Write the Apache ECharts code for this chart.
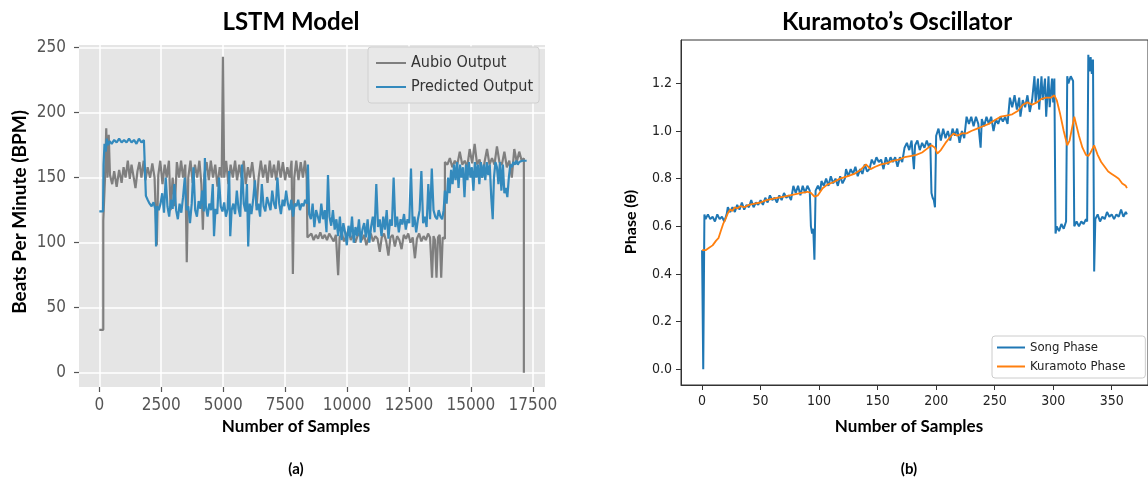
<!DOCTYPE html>
<html>
<head>
<meta charset="utf-8">
<script src="https://cdn.jsdelivr.net/npm/echarts@6/dist/echarts.min.js"></script>
<style>
  html, body { margin: 0; background: #fff; }
  #chart { width: 1148px; height: 479px; }
</style>
</head>
<body>
<div id="chart"></div>
<script>
// (a) LSTM model: sample index / BPM
const aubioX = [0, 160, 160, 230, 230, 280, 330, 380, 430, 520, 600, 700, 800, 900, 980, 1060, 1150, 1230, 1300, 1380, 1460, 1540, 1620, 1700, 1790, 1860, 1950, 2050, 2140, 2230, 2320, 2380, 2460, 2550, 2640, 2720, 2810, 2880, 2960, 3050, 3130, 3220, 3300, 3380, 3470, 3530, 3590, 3680, 3770, 3860, 3950, 4040, 4120, 4180, 4240, 4330, 4420, 4500, 4590, 4680, 4770, 4860, 4940, 4990, 5040, 5120, 5210, 5300, 5390, 5480, 5560, 5650, 5740, 5830, 5910, 6000, 6080, 6170, 6260, 6350, 6430, 6520, 6610, 6700, 6790, 6880, 6960, 7050, 7140, 7230, 7320, 7410, 7500, 7590, 7680, 7760, 7813, 7870, 7950, 8040, 8130, 8220, 8300, 8370, 8400, 8480, 8560, 8650, 8740, 8830, 8920, 9010, 9100, 9190, 9280, 9370, 9460, 9550, 9640, 9700, 9790, 9880, 9970, 10060, 10150, 10240, 10330, 10420, 10510, 10600, 10690, 10780, 10870, 10960, 11050, 11140, 11230, 11320, 11400, 11490, 11580, 11670, 11750, 11840, 11930, 12020, 12110, 12200, 12290, 12380, 12470, 12560, 12650, 12740, 12820, 12910, 13000, 13090, 13180, 13270, 13350, 13430, 13490, 13550, 13610, 13670, 13740, 13800, 13860, 13950, 13950, 14050, 14150, 14250, 14350, 14450, 14550, 14650, 14750, 14850, 14950, 15050, 15150, 15250, 15350, 15450, 15550, 15650, 15750, 15850, 15950, 16050, 16150, 16250, 16350, 16450, 16550, 16650, 16750, 16850, 16950, 17050, 17137, 17137];
const aubioY = [33, 33, 117, 117, 150, 188, 150, 183, 152, 145, 155, 143, 156, 146, 158, 150, 163, 149, 160, 151, 142, 155, 162, 150, 163, 148, 158, 150, 161, 150, 98, 152, 163, 145, 160, 150, 163, 125, 150, 128, 162, 150, 163, 150, 160, 85, 150, 163, 146, 160, 150, 163, 145, 110, 152, 162, 148, 163, 150, 160, 143, 158, 150, 243, 150, 163, 145, 160, 150, 163, 148, 160, 150, 163, 145, 158, 150, 162, 148, 128, 150, 163, 150, 160, 146, 163, 150, 160, 148, 163, 150, 162, 148, 158, 150, 163, 76, 150, 163, 148, 162, 150, 163, 150, 104, 103, 107, 102, 106, 103, 108, 103, 106, 102, 107, 104, 101, 106, 75, 104, 107, 101, 105, 110, 102, 106, 100, 105, 108, 102, 106, 98, 104, 107, 101, 105, 103, 93, 104, 107, 101, 90, 104, 106, 97, 105, 102, 95, 106, 103, 107, 100, 104, 88, 103, 107, 101, 105, 102, 107, 104, 73, 105, 102, 73, 104, 106, 73, 104, 103, 162, 160, 165, 158, 163, 160, 170, 160, 163, 158, 172, 161, 176, 160, 164, 150, 162, 172, 160, 165, 160, 174, 162, 160, 170, 158, 163, 150, 172, 162, 170, 163, 165, 0];

const predX = [0, 150, 170, 210, 260, 300, 350, 420, 500, 600, 700, 800, 900, 1000, 1100, 1200, 1300, 1400, 1500, 1600, 1700, 1800, 1860, 1880, 1950, 2030, 2110, 2190, 2260, 2290, 2330, 2400, 2470, 2540, 2610, 2680, 2750, 2820, 2890, 2960, 3030, 3100, 3170, 3240, 3310, 3380, 3450, 3520, 3590, 3660, 3730, 3800, 3870, 3940, 4010, 4080, 4150, 4220, 4262, 4300, 4370, 4440, 4510, 4580, 4630, 4690, 4760, 4830, 4900, 4970, 5040, 5110, 5180, 5240, 5285, 5340, 5410, 5480, 5550, 5620, 5690, 5760, 5830, 5900, 5960, 6010, 6070, 6140, 6210, 6280, 6350, 6420, 6490, 6560, 6630, 6700, 6770, 6840, 6910, 6980, 7050, 7120, 7190, 7260, 7330, 7400, 7470, 7540, 7610, 7680, 7750, 7820, 7890, 7960, 8030, 8100, 8170, 8240, 8310, 8380, 8420, 8470, 8540, 8610, 8680, 8750, 8820, 8890, 8960, 9030, 9100, 9170, 9230, 9290, 9360, 9430, 9500, 9570, 9640, 9710, 9780, 9850, 9920, 9990, 10060, 10130, 10200, 10270, 10340, 10410, 10480, 10550, 10620, 10690, 10760, 10830, 10900, 10970, 11040, 11110, 11180, 11250, 11320, 11390, 11460, 11530, 11600, 11670, 11740, 11810, 11880, 11950, 12020, 12090, 12160, 12230, 12300, 12370, 12440, 12510, 12580, 12650, 12720, 12790, 12860, 12930, 13000, 13070, 13140, 13210, 13280, 13350, 13420, 13490, 13560, 13630, 13700, 13770, 13840, 13900, 13950, 14020, 14080, 14140, 14200, 14260, 14320, 14380, 14440, 14500, 14560, 14620, 14680, 14740, 14800, 14860, 14920, 14980, 15040, 15100, 15160, 15220, 15280, 15340, 15400, 15460, 15520, 15580, 15640, 15700, 15760, 15820, 15880, 15930, 15990, 16050, 16110, 16170, 16230, 16290, 16350, 16410, 16470, 16530, 16590, 16650, 16710, 16770, 16830, 16890, 16950, 17010, 17070, 17150, 17250];
const predY = [124, 124, 160, 176, 170, 180, 175, 178, 176, 179, 177, 180, 177, 179, 177, 180, 177, 179, 176, 180, 177, 179, 178, 136, 133, 130, 128, 131, 126, 97, 128, 125, 130, 138, 123, 150, 128, 120, 133, 126, 145, 125, 118, 130, 123, 135, 150, 125, 128, 115, 130, 158, 125, 120, 132, 126, 140, 124, 165, 128, 120, 130, 125, 145, 105, 126, 122, 150, 128, 124, 131, 120, 126, 155, 105, 125, 130, 122, 140, 126, 120, 160, 130, 124, 145, 97, 130, 122, 133, 148, 125, 130, 120, 145, 128, 124, 135, 130, 125, 140, 130, 126, 150, 130, 122, 133, 128, 140, 130, 125, 133, 120, 130, 128, 133, 125, 130, 128, 133, 130, 160, 122, 118, 130, 112, 125, 120, 115, 130, 118, 125, 108, 152, 120, 113, 125, 110, 118, 105, 120, 102, 115, 108, 98, 113, 104, 120, 100, 112, 105, 118, 100, 110, 115, 104, 118, 100, 112, 120, 108, 145, 112, 118, 105, 120, 110, 125, 103, 118, 113, 150, 112, 120, 108, 118, 114, 122, 110, 118, 115, 157, 112, 120, 108, 118, 125, 155, 115, 120, 112, 145, 118, 157, 125, 120, 118, 125, 120, 118, 125, 140, 130, 150, 138, 156, 145, 160, 148, 162, 142, 160, 150, 158, 135, 160, 148, 162, 150, 158, 140, 162, 150, 160, 145, 162, 150, 160, 148, 162, 152, 160, 135, 118, 150, 162, 158, 145, 162, 140, 160, 138, 142, 135, 150, 160, 158, 162, 160, 163, 160, 162, 161, 163, 162, 163];

const lstmXTicks = [0, 2500, 5000, 7500, 10000, 12500, 15000, 17500];
const lstmYTicks = [0, 50, 100, 150, 200, 250];

// (b) Kuramoto's oscillator: sample index / phase
const songX = [0, 1, 2, 3, 5, 7, 9, 11, 13, 15, 17, 19, 21, 22, 24, 26, 28, 30, 32, 34, 36, 38, 40, 42, 44, 46, 48, 50, 52, 54, 56, 58, 60, 62, 64, 66, 68, 70, 72, 74, 76, 78, 80, 82, 84, 86, 88, 90, 92, 93, 94, 95, 96, 97, 99, 101, 102, 104, 106, 108, 110, 112, 114, 116, 118, 120, 122, 123, 125, 127, 129, 131, 133, 135, 137, 139, 141, 143, 145, 147, 149, 151, 153, 155, 157, 159, 161, 163, 165, 167, 169, 171, 173, 175, 177, 179, 181, 182, 184, 186, 188, 190, 192, 194, 195, 196, 197, 198, 199, 200, 202, 204, 206, 208, 210, 212, 214, 216, 218, 220, 222, 224, 226, 228, 230, 232, 234, 236, 238, 239, 241, 243, 245, 247, 249, 251, 253, 255, 257, 259, 261, 263, 265, 267, 269, 271, 272, 274, 276, 278, 280, 282, 284, 285, 287, 288, 290, 291, 293, 294, 296, 297, 299, 300, 301, 302, 303, 305, 307, 309, 311, 312, 313, 315, 317, 318, 320, 322, 324, 326, 328, 329, 330, 331, 332, 333, 334, 335, 336, 338, 340, 342, 344, 346, 348, 350, 352, 354, 356, 358, 360, 362, 363];
const songY = [0.50, 0.00, 0.65, 0.63, 0.65, 0.63, 0.64, 0.62, 0.65, 0.63, 0.64, 0.62, 0.65, 0.68, 0.66, 0.68, 0.66, 0.69, 0.67, 0.70, 0.67, 0.69, 0.68, 0.71, 0.68, 0.70, 0.69, 0.71, 0.69, 0.72, 0.70, 0.73, 0.71, 0.72, 0.70, 0.73, 0.71, 0.74, 0.72, 0.73, 0.71, 0.77, 0.74, 0.77, 0.73, 0.77, 0.74, 0.77, 0.75, 0.60, 0.57, 0.59, 0.46, 0.75, 0.77, 0.75, 0.79, 0.77, 0.80, 0.77, 0.81, 0.78, 0.80, 0.77, 0.81, 0.78, 0.80, 0.84, 0.81, 0.84, 0.82, 0.85, 0.81, 0.84, 0.82, 0.86, 0.83, 0.84, 0.88, 0.86, 0.89, 0.87, 0.88, 0.84, 0.89, 0.86, 0.89, 0.87, 0.89, 0.85, 0.89, 0.87, 0.93, 0.95, 0.92, 0.96, 0.84, 0.94, 0.96, 0.92, 0.95, 0.93, 0.96, 0.93, 0.95, 0.74, 0.72, 0.71, 0.68, 0.98, 1.01, 0.96, 1.01, 0.97, 1.00, 0.96, 1.01, 0.98, 1.01, 0.95, 1.00, 0.97, 1.06, 1.03, 1.06, 1.02, 1.06, 1.03, 0.93, 1.05, 1.02, 1.06, 1.03, 1.06, 1.00, 1.05, 1.03, 1.06, 1.04, 1.06, 1.03, 1.14, 1.10, 1.15, 1.09, 1.14, 1.06, 1.13, 1.10, 1.15, 1.08, 1.13, 1.23, 1.12, 1.22, 1.09, 1.23, 1.13, 1.22, 1.06, 1.23, 1.10, 1.22, 1.12, 1.22, 0.57, 0.60, 0.58, 0.61, 0.59, 0.62, 1.23, 1.20, 1.23, 1.21, 0.60, 0.62, 0.60, 0.62, 0.61, 0.63, 0.62, 1.32, 1.25, 1.31, 1.24, 1.30, 0.41, 0.63, 0.65, 0.62, 0.64, 0.63, 0.66, 0.64, 0.65, 0.63, 0.65, 0.64, 0.67, 0.64, 0.66, 0.65];

const kuraX = [0, 3, 6, 9, 12, 14, 16, 18, 20, 22, 24, 26, 28, 30, 33, 36, 40, 45, 50, 55, 60, 65, 70, 75, 80, 85, 90, 93, 96, 99, 103, 107, 112, 118, 124, 130, 135, 140, 144, 148, 153, 158, 163, 168, 173, 178, 183, 188, 192, 196, 199, 201, 204, 208, 212, 215, 218, 222, 226, 230, 235, 240, 245, 250, 255, 260, 265, 270, 274, 278, 282, 286, 290, 294, 298, 301, 303, 306, 309, 312, 314, 316, 318, 320, 322, 325, 328, 330, 332, 335, 338, 341, 344, 347, 350, 353, 356, 359, 362, 363];
const kuraY = [0.50, 0.50, 0.51, 0.52, 0.54, 0.55, 0.58, 0.61, 0.63, 0.655, 0.67, 0.665, 0.68, 0.675, 0.685, 0.68, 0.69, 0.695, 0.70, 0.71, 0.715, 0.72, 0.725, 0.73, 0.735, 0.74, 0.745, 0.74, 0.725, 0.73, 0.76, 0.775, 0.785, 0.80, 0.81, 0.82, 0.835, 0.86, 0.84, 0.85, 0.86, 0.865, 0.875, 0.88, 0.89, 0.895, 0.90, 0.91, 0.925, 0.94, 0.93, 0.905, 0.92, 0.95, 0.975, 0.99, 0.98, 0.99, 0.99, 1.00, 1.01, 1.02, 1.03, 1.045, 1.06, 1.065, 1.07, 1.085, 1.11, 1.12, 1.11, 1.12, 1.135, 1.14, 1.14, 1.15, 1.13, 1.07, 1.00, 0.94, 0.96, 1.01, 1.06, 1.02, 0.98, 0.93, 0.90, 0.895, 0.91, 0.94, 0.90, 0.87, 0.85, 0.83, 0.82, 0.81, 0.80, 0.78, 0.77, 0.76];

const kuraXTicks = [0, 50, 100, 150, 200, 250, 300, 350];
const kuraYTicks = [0, 0.2, 0.4, 0.6, 0.8, 1.0, 1.2];

const pairs = (xs, ys) => xs.map((x, i) => [x, ys[i]]);

const tickFontL = '"Liberation Sans Narrow", "DejaVu Sans Condensed", sans-serif';
const tickFontR = '"DejaVu Sans Condensed", "DejaVu Sans", sans-serif';
const boldFont = 'Lato, "Open Sans", sans-serif';

function label(text, x, y, size, rotated) {
  return {
    type: 'text', x, y, rotation: rotated ? Math.PI / 2 : 0,
    style: { text, font: `bold ${size}px ${boldFont}`, fill: '#000', align: 'center', verticalAlign: 'middle' }
  };
}

const chart = echarts.init(document.getElementById('chart'), null, { renderer: 'canvas' });

chart.setOption({
  animation: false,
  backgroundColor: '#fff',
  graphic: [
    label('LSTM Model', 291, 22, 24),
    label('Kuramoto\u2019s Oscillator', 897, 22, 24),
    label('Number of Samples', 296, 427, 17),
    label('Number of Samples', 909, 427, 17),
    label('(a)', 296, 469, 15),
    label('(b)', 909, 469, 15),
    label('Beats Per Minute (BPM)', 20, 212, 19, true),
    label('Phase (\u03b8)', 631, 222, 16, true)
  ],
  legend: [
    {
      data: ['Aubio Output', 'Predicted Output'],
      orient: 'vertical', left: 368, top: 47,
      icon: 'rect', itemWidth: 30, itemHeight: 2,
      padding: [8, 6, 8, 8], itemGap: 8,
      backgroundColor: '#E8E8E8', borderColor: '#D0D0D0', borderWidth: 1, borderRadius: 3,
      textStyle: { fontFamily: tickFontL, fontSize: 16, lineHeight: 16, color: '#333' }
    },
    {
      data: ['Song Phase', 'Kuramoto Phase'],
      orient: 'vertical', left: 992, top: 336,
      icon: 'rect', itemWidth: 28, itemHeight: 2,
      padding: [5, 20, 5, 5], itemGap: 6,
      backgroundColor: '#fff', borderColor: '#CCCCCC', borderWidth: 1, borderRadius: 3,
      textStyle: { fontFamily: tickFontR, fontSize: 13, lineHeight: 13, color: '#222' }
    }
  ],
  grid: [
    { left: 79, top: 45, width: 466, height: 342, show: true, backgroundColor: '#E5E5E5', borderWidth: 0 },
    { left: 681, top: 40, width: 476, height: 345, show: true, backgroundColor: 'transparent', borderColor: '#333', borderWidth: 1 }
  ],
  xAxis: [
    {
      type: 'value', gridIndex: 0, min: -820, max: 17990,
      axisLine: { show: false, onZero: false },
      axisTick: { show: true, length: 5, customValues: lstmXTicks, lineStyle: { color: '#555', width: 1.2 } },
      axisLabel: { customValues: lstmXTicks, margin: 10, color: '#555', fontFamily: tickFontL, fontSize: 17, formatter: (v) => String(v) },
      splitLine: { show: true, lineStyle: { color: '#fff', width: 1.5 } }
    },
    {
      type: 'value', gridIndex: 1, min: -18, max: 381,
      axisLine: { show: true, onZero: false, lineStyle: { color: '#333', width: 1 } },
      axisTick: { show: true, length: 5, customValues: kuraXTicks, lineStyle: { color: '#333', width: 1 } },
      axisLabel: { customValues: kuraXTicks, margin: 9, color: '#222', fontFamily: tickFontR, fontSize: 14, formatter: (v) => String(v) },
      splitLine: { show: false }
    }
  ],
  yAxis: [
    {
      type: 'value', gridIndex: 0, min: -11, max: 252,
      axisLine: { show: false, onZero: false },
      axisTick: { show: true, length: 5, customValues: lstmYTicks, lineStyle: { color: '#555', width: 1.2 } },
      axisLabel: { customValues: lstmYTicks, margin: 13, color: '#555', fontFamily: tickFontL, fontSize: 17 },
      splitLine: { show: true, lineStyle: { color: '#fff', width: 1.5 } }
    },
    {
      type: 'value', gridIndex: 1, min: -0.066, max: 1.382,
      axisLine: { show: true, onZero: false, lineStyle: { color: '#333', width: 1 } },
      axisTick: { show: true, length: 5, customValues: kuraYTicks, lineStyle: { color: '#333', width: 1 } },
      axisLabel: { customValues: kuraYTicks, margin: 9, color: '#222', fontFamily: tickFontR, fontSize: 14, formatter: (v) => v.toFixed(1) },
      splitLine: { show: false }
    }
  ],
  series: [
    { name: 'Aubio Output', type: 'line', xAxisIndex: 0, yAxisIndex: 0, symbol: 'none', data: pairs(aubioX, aubioY), color: '#7F7F7F', lineStyle: { width: 2.2 } },
    { name: 'Predicted Output', type: 'line', xAxisIndex: 0, yAxisIndex: 0, symbol: 'none', data: pairs(predX, predY), color: '#348ABD', lineStyle: { width: 2.2 } },
    { name: 'Song Phase', type: 'line', xAxisIndex: 1, yAxisIndex: 1, symbol: 'none', data: pairs(songX, songY), color: '#1F77B4', lineStyle: { width: 2 } },
    { name: 'Kuramoto Phase', type: 'line', xAxisIndex: 1, yAxisIndex: 1, symbol: 'none', data: pairs(kuraX, kuraY), color: '#FF7F0E', lineStyle: { width: 1.8 } }
  ]
});
</script>
</body>
</html>
